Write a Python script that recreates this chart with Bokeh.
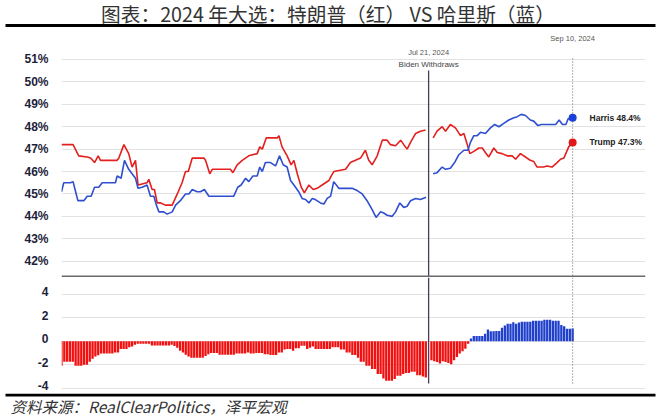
from bokeh.plotting import figure
from bokeh.layouts import column
from bokeh.models import Range1d, FixedTicker, Span, PrintfTickFormatter, CustomJSTickFormatter
from bokeh.embed import file_html
from bokeh.resources import INLINE
from bokeh.core.properties import value

NAN = float("nan")

# x = days since 2024-03-13 (RealClearPolitics average)
trump_day = [0, 4.1, 6.1, 9.1, 10.3, 11.7, 13.0, 13.8, 19.7, 20.3, 22.1, 23.8, 25.0, 26.2, 27.1,
             30.3, 30.9, 32.1, 32.9, 33.9, 35.1, 36.8, 39.2, 41.0, 42.7, 43.9, 44.9, 46.3, 50.4,
             51.0, 52.5, 53.4, 59.8, 60.7, 62.2, 64.0, 66.3, 69.3, 70.2, 71.1, 72.5, 76.4, 77.0,
             78.1, 79.9, 81.3, 82.3, 83.5, 84.9, 86.0, 87.6, 89.1, 90.5, 92.3, 94.7, 95.3, 96.4,
             100.6, 102.3, 104.1, 105.9, 107.6, 108.8, 110.0, 111.8, 113.6, 115.3, 116.5, 118.3,
             120.1, 121.2, 122.4, 123.6, 125.4, 127.1, 128.9, 130, 131.6, 133.0, 134.8, 136.0,
             137.7, 139.5, 141.3, 142.5, 143.7, 144.6, 146.0, 147.8, 149.0, 150.1, 151.3, 153.1,
             154.3, 156.0, 157.8, 159.6, 160.8, 162.5, 164.3, 166.0, 167.2, 168.4, 170.7, 171.9,
             173.7, 175.5, 176.7, 177.9, 179.6, 181.0]
trump_pct = [47.2, 47.2, 46.7, 46.65, 46.6, 46.4, 46.7, 46.5, 46.5, 46.6, 47.2, 46.8, 46.2, 46.5, 45.4,
             45.5, 45.65, 45.2, 45.2, 44.6, 44.6, 44.5, 44.5, 45.0, 45.5, 46.0, 46.0, 46.6, 46.6,
             46.5, 45.9, 46.1, 46.1, 45.95, 46.3, 46.5, 46.7, 46.8, 47.1, 47.0, 47.5, 47.5, 47.6,
             47.1, 46.7, 46.3, 46.5, 45.9, 45.3, 45.05, 45.4, 45.2, 45.25, 45.4, 45.6, 45.75, 46.0,
             46.1, 46.4, 46.5, 46.6, 46.95, 46.5, 46.3, 46.7, 47.4, 47.4, 47.2, 47.15,
             47.4, 47.2, 47.0, 47.3, 47.7, 47.8, 47.85, NAN, 47.5, 47.8, 48.0, 47.8,
             48.1, 47.95, 47.6, 47.7, 47.2, 46.8, 46.9, 47.05, 47.05, 46.85, 46.65, 47.05,
             46.85, 46.8, 46.7, 46.7, 46.55, 46.8, 46.65, 46.5, 46.45, 46.2, 46.2, 46.25,
             46.2, 46.4, 46.55, 46.6, 47.1, 47.3]

harris_day = [0, 0.8, 3.2, 4.1, 5.0, 5.8, 7.9, 9.1, 10.5, 11.7, 13.2, 14.4, 19.1, 19.7, 21.1, 22.3,
              23.8, 25.0, 26.2, 27.1, 28.6, 30.3, 31.5, 32.7, 33.6, 34.5, 36.2, 37.4, 39.2, 40.4,
              42.1, 43.9, 45.1, 46.3, 48.0, 49.2, 50.6, 52.2, 61.0, 62.4, 63.6, 65.2, 66.3, 67.8,
              69.3, 70.2, 71.1, 72.2, 74.0, 75.8, 77.2, 78.5, 79.9, 81.1, 82.3, 84.0, 85.2, 86.4,
              87.6, 88.8, 89.9, 91.7, 92.9, 94.1, 95.3, 96.4, 98.2, 102.9, 104.7, 106.5, 108.2,
              110.0, 111.4, 113.0, 114.1, 115.3, 117.1, 118.3, 119.8, 121.2, 122.4, 123.6, 125.4,
              127.1, 129.1, 130, 131.6, 133.0, 134.8, 136.0, 137.7, 139.2, 140.7, 142.5, 143.9,
              144.8, 146.0, 147.2, 148.4, 150.1, 151.9, 153.4, 154.9, 156.6, 158.4, 160.2, 161.4,
              162.8, 164.3, 166.0, 167.2, 168.7, 169.9, 175.0, 176.2, 177.4, 178.6, 179.4, 181.0]
harris_pct = [45.1, 45.5, 45.5, 45.55, 45.1, 44.7, 44.7, 44.9, 44.9, 45.3, 45.3, 45.5, 45.5, 45.8, 45.7, 46.5,
              46.1, 45.9, 45.7, 45.25, 45.3, 45.4, 44.9, 44.9, 44.5, 44.2, 44.2, 44.1, 44.2, 44.5,
              44.7, 45.0, 45.0, 45.2, 45.1, 45.1, 45.2, 44.9, 44.9, 45.3, 45.4, 45.7, 45.55, 45.8,
              45.8, 46.2, 46.0, 46.4, 46.4, 46.25, 46.7, 46.3, 46.2, 45.6, 45.4, 45.1, 44.8, 44.75,
              44.6, 44.8, 44.75, 44.6, 44.55, 44.8, 44.9, 45.55, 45.25, 45.25, 45.15, 45.0, 44.7,
              44.3, 43.95, 44.2, 44.15, 44.05, 44.0, 44.2, 44.6, 44.4, 44.45, 44.7, 44.8,
              44.75, 44.85, NAN, 45.9, 45.95, 46.2, 46.1, 46.15, 46.4, 46.75, 46.95, 46.95,
              47.3, 47.6, 47.6, 47.75, 47.7, 47.95, 48.1, 48.0, 48.15, 48.3, 48.4, 48.45,
              48.55, 48.5, 48.3, 48.25, 48.05, 48.1, 48.1, 48.3, 48.1, 48.1, 48.35, 48.4]

# daily spread (Harris/Biden minus Trump), no value on day 130 (Jul 21)
spread_day = list(range(0, 130)) + list(range(131, 182))
spread = [-2.1, -1.75, -1.75, -1.75, -1.75, -2.1, -2.1, -2.1, -2.0, -2.0,
          -1.75, -1.5, -1.3, -1.2, -1.05, -1.05, -1.05, -1.05, -1.05, -0.95,
          -0.95, -0.65, -0.65, -0.65, -0.5, -0.45, -0.3, -0.2, -0.2, -0.2,
          -0.2, -0.2, -0.35, -0.35, -0.35, -0.35, -0.35, -0.35, -0.35, -0.3,
          -0.4, -0.55, -0.8, -0.95, -1.15, -1.3, -1.4, -1.4, -1.4, -1.4,
          -1.4, -1.25, -1.1, -1.0, -1.0, -1.0, -1.15, -1.15, -1.15, -1.15,
          -1.15, -1.15,
          -1.05, -1.05, -1.05, -1.05, -0.95, -1.05, -1.05, -1.0, -1.0, -1.0,
          -1.1, -1.1, -1.17, -1.17, -1.17, -0.95, -0.95, -0.7, -0.65, -0.65,
          -0.8, -0.6, -0.6, -0.37, -0.37, -0.65, -0.55, -0.45, -0.65, -0.65,
          -0.65, -0.65, -0.65, -0.65, -0.5, -0.5, -0.5, -0.7, -0.7, -0.95,
          -0.95, -1.17, -1.17, -1.4, -1.75, -1.75, -2.08, -2.08, -2.37, -2.37,
          -2.8, -2.8, -3.17, -3.37, -3.37, -3.37, -3.23, -2.94, -2.94, -2.8,
          -2.7, -2.7, -2.6, -2.6, -2.9, -2.9, -3.0, -3.1,
          -1.62, -1.7, -1.76, -1.9, -1.7, -1.76, -1.85, -1.96, -1.62, -1.34,
          -1.05, -0.85, -0.63, -0.2, 0.23, 0.45, 0.45, 0.45, 0.45, 0.65,
          1.0, 0.85, 0.85, 0.88, 0.88, 1.16, 1.36, 1.5, 1.5, 1.62,
          1.5, 1.6, 1.68, 1.68, 1.68, 1.68, 1.76, 1.76, 1.76, 1.76,
          1.85, 1.85, 1.85, 1.76, 1.76, 1.76, 1.39, 1.28, 1.08, 1.08, 1.1]

top_ticks = [42, 43, 44, 45, 46, 47, 48, 49, 50, 51]
bottom_ticks = [-4, -2, 0, 2, 4]
jul21_day = 130
sep10_day = 181
harris_last = 48.4
trump_last = 47.3

title_text = "图表：2024 年大选：特朗普（红） VS 哈里斯（蓝）"
source_text = "资料来源：RealClearPolitics，泽平宏观"

RED = "#e3201e"
BLUE = "#2f4fcf"
BAR_RED = "#f01010"
BAR_BLUE = "#2040cc"
LABEL = "#1e1e3a"
W = 660

common = dict(toolbar_location=None, output_backend="svg", outline_line_color=None,
              background_fill_color="white", border_fill_color="white")

# header
hdr = figure(width=W, height=27, x_range=Range1d(0, W), y_range=Range1d(27, 0),
             x_axis_location=None, y_axis_location=None, min_border=0, frame_align=False, **common)
hdr.xgrid.visible = False
hdr.ygrid.visible = False
hdr.text(x=[327.5], y=[12.5], text=[title_text], text_font=value("Noto Sans CJK SC"),
         text_font_size="19.7px", text_align="center", text_baseline="middle", text_color="#333333")
hdr.segment(x0=[5], x1=[655], y0=[25], y1=[25], line_width=3, line_color="#000000")

XR = Range1d(0, 206.8)
TOP_LO, TOP_HI = 41.271, 52.428
BOT_LO, BOT_HI = -4.462, 5.453


def style_axis(ax):
    ax.axis_line_color = None
    ax.major_tick_line_color = None
    ax.minor_tick_line_color = None
    ax.major_label_text_font = "Liberation Sans"
    ax.major_label_text_font_style = "bold"
    ax.major_label_text_font_size = "12px"
    ax.major_label_text_color = LABEL
    ax.major_label_standoff = 7


# top chart
top = figure(width=W, height=250, x_range=XR, y_range=Range1d(TOP_LO, TOP_HI),
             x_axis_location=None, min_border_left=61, min_border_right=15,
             min_border_top=0, min_border_bottom=0, **common)
top.xgrid.visible = False
top.yaxis.ticker = FixedTicker(ticks=top_ticks)
top.yaxis.formatter = PrintfTickFormatter(format="%d%%")
style_axis(top.yaxis)
top.ygrid.ticker = FixedTicker(ticks=top_ticks)
top.ygrid.grid_line_color = "#e2e2e2"
top.ygrid.grid_line_width = 1.2
top.add_layout(Span(location=41.33, dimension="width", line_color="#6a6a6a", line_width=1.5))

top.segment(x0=[jul21_day], x1=[jul21_day], y0=[50.51], y1=[TOP_LO],
            line_color="#4a3d5c", line_width=1.3)
top.segment(x0=[sep10_day], x1=[sep10_day], y0=[51.045], y1=[TOP_LO],
            line_color="#666666", line_width=1, line_dash="1 2")

top.line(trump_day, trump_pct, line_color=RED, line_width=1.6)
top.line(harris_day, harris_pct, line_color=BLUE, line_width=1.6)
top.scatter([sep10_day], [harris_last], size=8, fill_color="#1c3fd8", line_color=None)
top.scatter([sep10_day], [trump_last], size=8, fill_color="#e01818", line_color=None)

top.text(x=[187], y=[harris_last], text=["Harris %.1f%%" % harris_last],
         text_font=value("Liberation Sans"), text_font_style="bold", text_font_size="8.5px",
         text_baseline="middle", text_align="left", text_color="#222222")
top.text(x=[187], y=[trump_last], text=["Trump %.1f%%" % trump_last],
         text_font=value("Liberation Sans"), text_font_style="bold", text_font_size="8.5px",
         text_baseline="middle", text_align="left", text_color="#222222")
top.text(x=[jul21_day], y=[51.312], text=["Jul 21, 2024"], text_font=value("Liberation Sans"),
         text_font_size="7.5px", text_align="center", text_baseline="middle", text_color="#555555")
top.text(x=[jul21_day], y=[50.777], text=["Biden Withdraws"], text_font=value("Liberation Sans"),
         text_font_size="8px", text_align="center", text_baseline="middle", text_color="#444444")
top.text(x=[sep10_day], y=[51.937], text=["Sep 10, 2024"], text_font=value("Liberation Sans"),
         text_font_size="7.5px", text_align="center", text_baseline="middle", text_color="#555555")

# bottom chart: labels sit slightly above their grid lines, as in the source chart
bot = figure(width=W, height=116, x_range=XR, y_range=Range1d(BOT_LO, BOT_HI),
             x_axis_location=None, min_border_left=61, min_border_right=15,
             min_border_top=0, min_border_bottom=0, **common)
bot.xgrid.visible = False
bot.yaxis.ticker = FixedTicker(ticks=[t + 0.23 for t in bottom_ticks])
bot.yaxis.formatter = CustomJSTickFormatter(code="return Math.round(tick).toString();")
style_axis(bot.yaxis)
bot.ygrid.ticker = FixedTicker(ticks=bottom_ticks)
bot.ygrid.grid_line_color = "#e2e2e2"
bot.ygrid.grid_line_width = 1.2

bar_colors = [BAR_BLUE if v > 0 else BAR_RED for v in spread]
bot.vbar(x=spread_day, top=spread, bottom=0, width=0.82, fill_color=bar_colors, line_color=None)
bot.segment(x0=[jul21_day], x1=[jul21_day], y0=[BOT_HI], y1=[-3.607],
            line_color="#4a3d5c", line_width=1.3)
bot.segment(x0=[sep10_day], x1=[sep10_day], y0=[BOT_HI], y1=[-3.607],
            line_color="#666666", line_width=1, line_dash="1 2")

# footer
ftr = figure(width=W, height=24, x_range=Range1d(0, W), y_range=Range1d(24, 0),
             x_axis_location=None, y_axis_location=None, min_border=0, frame_align=False, **common)
ftr.xgrid.visible = False
ftr.ygrid.visible = False
ftr.segment(x0=[5], x1=[655], y0=[1.5], y1=[1.5], line_width=3, line_color="#000000")
ftr.text(x=[10], y=[12.5], text=[source_text], text_font=value("Noto Sans CJK SC"),
         text_font_style="italic", text_font_size="15.5px", text_align="left",
         text_baseline="middle", text_color="#333333")

layout = column(hdr, top, bot, ftr, spacing=0)
open("out.html", "w").write(file_html(layout, INLINE))
